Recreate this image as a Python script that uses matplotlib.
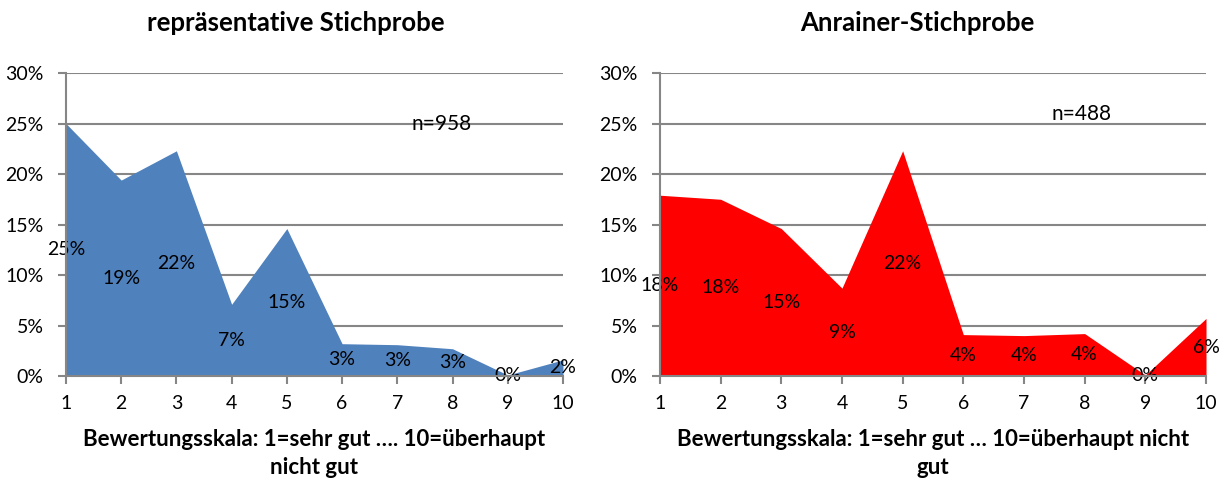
import matplotlib
matplotlib.use("Agg")
import matplotlib.pyplot as plt
from matplotlib.ticker import PercentFormatter

plt.rcParams["font.family"] = ["Lato", "DejaVu Sans"]

# scale points 1..10
scale = [1, 2, 3, 4, 5, 6, 7, 8, 9, 10]

# share of answers per scale point
repr_share = [0.250, 0.194, 0.223, 0.071, 0.146, 0.032, 0.031, 0.027, 0.001, 0.016]
anr_share = [0.179, 0.175, 0.146, 0.087, 0.223, 0.041, 0.040, 0.042, 0.001, 0.057]

titles = ["repräsentative Stichprobe", "Anrainer-Stichprobe"]
xlabels = [
    "Bewertungsskala: 1=sehr gut …. 10=überhaupt\nnicht gut",
    "Bewertungsskala: 1=sehr gut … 10=überhaupt nicht\ngut",
]
n_labels = ["n=958", "n=488"]
n_pos = [(7.8, 0.25), (7.95, 0.259)]
colors = ["#4F81BD", "#FF0000"]

fig = plt.figure(figsize=(12.26, 4.82), dpi=100)
ax_left = fig.add_axes([0.0538, 0.2199, 0.4054, 0.6286])
ax_right = fig.add_axes([0.5383, 0.2199, 0.4454, 0.6286])
title_x = [0.241, 0.748]

grid_col = "#868686"
for i, (ax, vals) in enumerate(zip([ax_left, ax_right], [repr_share, anr_share])):
    ax.fill_between(scale, vals, 0, color=colors[i], linewidth=0, zorder=2)
    for x, v in zip(scale, vals):
        ax.text(x, v / 2, f"{round(v * 100):.0f}%", ha="center", va="center",
                fontsize=14, color="black", zorder=3, clip_on=False)
    ax.text(n_pos[i][0], n_pos[i][1], n_labels[i], ha="center", va="center",
            fontsize=15, zorder=3)

    ax.set_xlim(1, 10)
    ax.set_ylim(0, 0.30)
    ax.set_xticks(scale)
    ax.set_yticks([0, 0.05, 0.10, 0.15, 0.20, 0.25, 0.30])
    ax.yaxis.set_major_formatter(PercentFormatter(1.0, decimals=0))
    ax.grid(axis="y", color=grid_col, linewidth=1.5, zorder=1)
    ax.set_axisbelow(True)
    for side in ["top", "right"]:
        ax.spines[side].set_visible(False)
    for side in ["left", "bottom"]:
        ax.spines[side].set_color(grid_col)
        ax.spines[side].set_linewidth(1.5)
        ax.spines[side].set_zorder(4)
    ax.tick_params(axis="both", colors=grid_col, labelcolor="black", labelsize=14,
                   length=6, width=1.5, direction="out")
    ax.tick_params(axis="y", pad=10)
    ax.tick_params(axis="x", pad=8)
    ax.set_xlabel(xlabels[i], fontsize=16, fontweight="bold", labelpad=12,
                  linespacing=1.38)
    fig.text(title_x[i], 0.952, titles[i], ha="center", va="center",
             fontsize=18.5, fontweight="bold")

fig.savefig("out.png", dpi=100)
